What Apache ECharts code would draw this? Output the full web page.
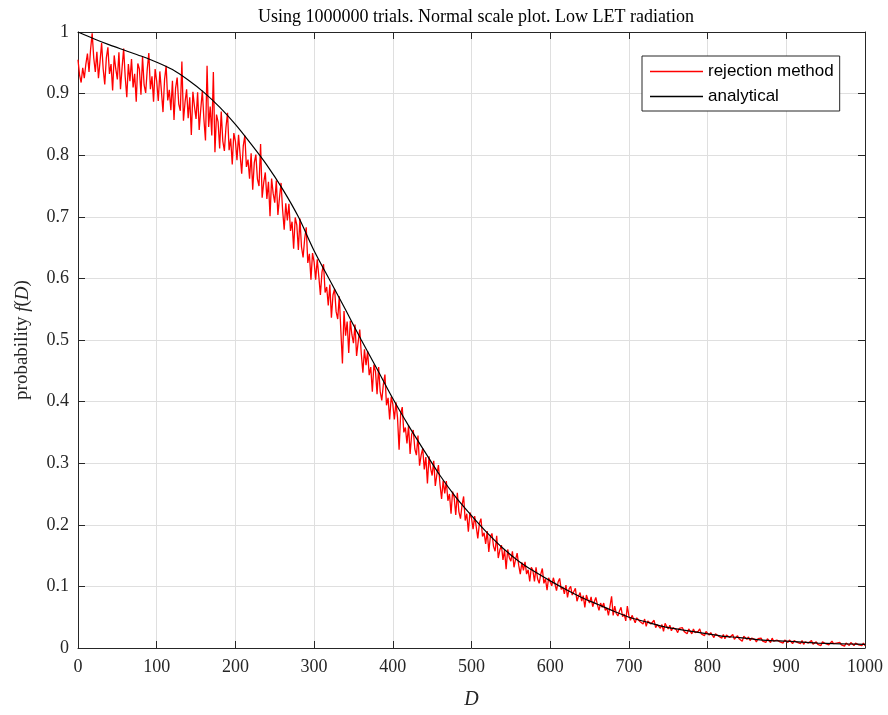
<!DOCTYPE html>
<html>
<head>
<meta charset="utf-8">
<script src="https://cdn.jsdelivr.net/npm/echarts@6/dist/echarts.min.js"></script>
<style>
html,body{margin:0;padding:0;background:#fff;}
#chart{width:888px;height:715px;}
</style>
</head>
<body>
<div id="chart"></div>
<script>
// x-axis ticks
const xTicks = [0,100,200,300,400,500,600,700,800,900,1000];
const yTicks = [0,0.1,0.2,0.3,0.4,0.5,0.6,0.7,0.8,0.9,1];

// rejection method: sampled every 2 units of D, starting at D = 0
const redStep = 2;
const redValues = [
 .955,.930,.918,.942,.925,.948,.965,.935,.972,.998,.958,.935,.968,.925,.952,.982,.940,.915,.958,.975,.932,.948,.905,.962,.940,
 .923,.967,.907,.942,.973,.927,.894,.948,.920,.956,.910,.932,.887,.949,.940,.898,.960,.914,.901,.940,.966,.907,.928,.887,.940,
 .920,.888,.936,.904,.870,.923,.945,.889,.906,.873,.921,.857,.909,.926,.883,.872,.952,.856,.886,.907,.860,.894,.833,.903,.879,
 .859,.902,.841,.875,.905,.858,.824,.945,.846,.879,.832,.935,.805,.866,.854,.811,.871,.823,.807,.845,.869,.808,.827,.785,.836,
 .823,.792,.833,.801,.770,.815,.832,.781,.793,.762,.803,.744,.788,.801,.761,.750,.818,.731,.756,.772,.729,.757,.701,.762,.738,
 .723,.759,.703,.731,.755,.711,.679,.722,.694,.721,.677,.692,.648,.699,.687,.646,.697,.651,.634,.664,.683,.625,.640,.598,.641,
 .627,.598,.631,.603,.573,.610,.623,.577,.586,.556,.590,.536,.573,.583,.546,.534,.571,.515,.462,.547,.507,.530,.479,.531,.509,
 .495,.525,.474,.497,.517,.477,.447,.485,.459,.482,.443,.456,.416,.460,.449,.412,.456,.416,.402,.428,.444,.394,.406,.371,.408,
 .396,.371,.399,.374,.322,.380,.391,.350,.358,.332,.361,.315,.347,.354,.323,.313,.345,.296,.313,.324,.290,.310,.267,.311,.292,
 .280,.304,.263,.282,.297,.265,.242,.272,.251,.271,.239,.250,.218,.254,.244,.216,.252,.221,.210,.232,.246,.207,.218,.189,.220,
 .211,.193,.214,.197,.178,.202,.210,.181,.187,.169,.190,.156,.181,.186,.165,.157,.182,.146,.159,.167,.143,.159,.128,.160,.147,
 .141,.157,.131,.144,.154,.134,.120,.139,.126,.140,.120,.127,.108,.131,.126,.108,.131,.112,.105,.120,.129,.105,.112,.094,.114,
 .112,.101,.114,.104,.093,.107,.113,.095,.099,.088,.102,.082,.096,.100,.086,.083,.097,.076,.084,.090,.076,.085,.066,.086,.078,
 .073,.083,.067,.075,.082,.070,.061,.073,.066,.073,.061,.065,.053,.068,.084,.053,.068,.056,.052,.060,.066,.051,.055,.044,.068,
 .052,.045,.053,.047,.041,.049,.052,.043,.045,.039,.047,.035,.044,.047,.039,.037,.045,.033,.038,.041,.032,.038,.027,.040,.035,
 .031,.037,.028,.033,.036,.030,.025,.032,.029,.033,.027,.029,.023,.031,.029,.023,.031,.025,.023,.027,.031,.023,.025,.020,.027,
 .024,.021,.025,.022,.017,.023,.025,.019,.021,.016,.022,.015,.021,.022,.017,.016,.022,.014,.017,.020,.015,.018,.011,.019,.016,
 .014,.018,.012,.016,.019,.014,.010,.015,.013,.016,.011,.013,.009,.015,.014,.009,.016,.011,.009,.013,.016,.010,.012,.008,.013,
 .012,.009,.013,.010,.007,.012,.014,.009,.010,.007,.012,.006,.010,.012,.008,.007,.012,.006,.008,.010,.006,.009,.004,.010,.008,
 .007,.010,.005,.008,.011,.007,.004,.008,.006,.009,.005,.007,.003,.008,.008,.004,.009,.006,.004,.008,.010,.005,.007,.004,.008,
 .004
];

// analytical curve
const blackD = [0,20,40,60,80,100,120,140,160,180,200,220,240,260,280,300,320,340,360,380,400,420,440,460,480,500,520,540,560,580,600,620,640,660,680,700,720,740,760,780,800,820,840,860,880,900,920,940,960,980,1000];
const blackValues = [1.000,.989,.979,.970,.961,.951,.939,.922,.902,.878,.850,.818,.784,.745,.700,.645,.597,.549,.500,.453,.405,.361,.320,.280,.245,.215,.187,.162,.141,.124,.109,.095,.082,.071,.060,.050,.043,.036,.031,.027,.023,.019,.017,.014,.012,.011,.0095,.008,.007,.0065,.006];

const redData = redValues.map((v,i)=>[i*redStep, v]);
const blackData = blackD.map((d,i)=>[d, blackValues[i]]);

const serif = '"Liberation Serif","DejaVu Serif",serif';
const axisCol = '#262626';

const chart = echarts.init(document.getElementById('chart'), null, {renderer:'canvas'});
chart.setOption({
  animation:false,
  backgroundColor:'#fff',
  title:{
    text:'Using 1000000 trials. Normal scale plot. Low LET radiation',
    left:471, top:3, textAlign:'center',
    textStyle:{fontFamily:serif, fontSize:18, fontWeight:'normal', color:'#000'}
  },
  grid:{left:78, right:23, top:32, bottom:61, containLabel:false},
  legend:{
    orient:'vertical', left:642, top:56,
    padding:[7,6,6,8], itemGap:8, itemWidth:53, itemHeight:1.5,
    backgroundColor:'#fff', borderColor:axisCol, borderWidth:1,
    textStyle:{fontFamily:'"Liberation Sans",Arial,sans-serif', fontSize:17, color:'#000', lineHeight:17},
    data:[{name:'rejection method', icon:'rect'},{name:'analytical', icon:'rect'}]
  },
  xAxis:[{
    type:'value', min:0, max:1000, interval:100,
    name:'D', nameLocation:'middle', nameGap:42,
    nameTextStyle:{fontFamily:serif, fontStyle:'italic', fontSize:20, color:axisCol},
    axisLine:{show:true, onZero:false, lineStyle:{color:axisCol, width:1}},
    axisTick:{show:true, inside:true, length:7, lineStyle:{color:axisCol}},
    axisLabel:{fontFamily:serif, fontSize:18, color:axisCol, margin:10, formatter:v=>String(v)},
    splitLine:{show:true, lineStyle:{color:'#dfdfdf', width:1}}
  },{
    type:'value', min:0, max:1000, interval:100, position:'top',
    axisLine:{show:true, onZero:false, lineStyle:{color:axisCol, width:1}},
    axisTick:{show:true, inside:true, length:7, lineStyle:{color:axisCol}},
    axisLabel:{show:false}, splitLine:{show:false}
  }],
  yAxis:[{
    type:'value', min:0, max:1, interval:0.1,
    name:'{a|probability }{b|f}{a|(}{b|D}{a|)}',
    nameLocation:'middle', nameRotate:90, nameGap:46,
    nameTextStyle:{
      rich:{
        a:{fontFamily:serif, fontSize:19, color:axisCol},
        b:{fontFamily:serif, fontSize:19, fontStyle:'italic', color:axisCol}
      }
    },
    axisLine:{show:true, onZero:false, lineStyle:{color:axisCol, width:1}},
    axisTick:{show:true, inside:true, length:7, lineStyle:{color:axisCol}},
    axisLabel:{fontFamily:serif, fontSize:18, color:axisCol, margin:9,
      formatter:v=>{const r=Math.round(v*10)/10; return String(r);}},
    splitLine:{show:true, lineStyle:{color:'#dfdfdf', width:1}}
  },{
    type:'value', min:0, max:1, interval:0.1, position:'right',
    axisLine:{show:true, onZero:false, lineStyle:{color:axisCol, width:1}},
    axisTick:{show:true, inside:true, length:7, lineStyle:{color:axisCol}},
    axisLabel:{show:false}, splitLine:{show:false}
  }],
  series:[{
    name:'rejection method', type:'line', data:redData,
    xAxisIndex:0, yAxisIndex:0,
    symbol:'none', showSymbol:false,
    lineStyle:{color:'#ff0000', width:1.3}, itemStyle:{color:'#ff0000'},
    z:2
  },{
    name:'analytical', type:'line', data:blackData,
    xAxisIndex:0, yAxisIndex:0, smooth:0.3,
    symbol:'none', showSymbol:false,
    lineStyle:{color:'#000000', width:1.2}, itemStyle:{color:'#000000'},
    z:3
  }]
});
</script>
</body>
</html>
